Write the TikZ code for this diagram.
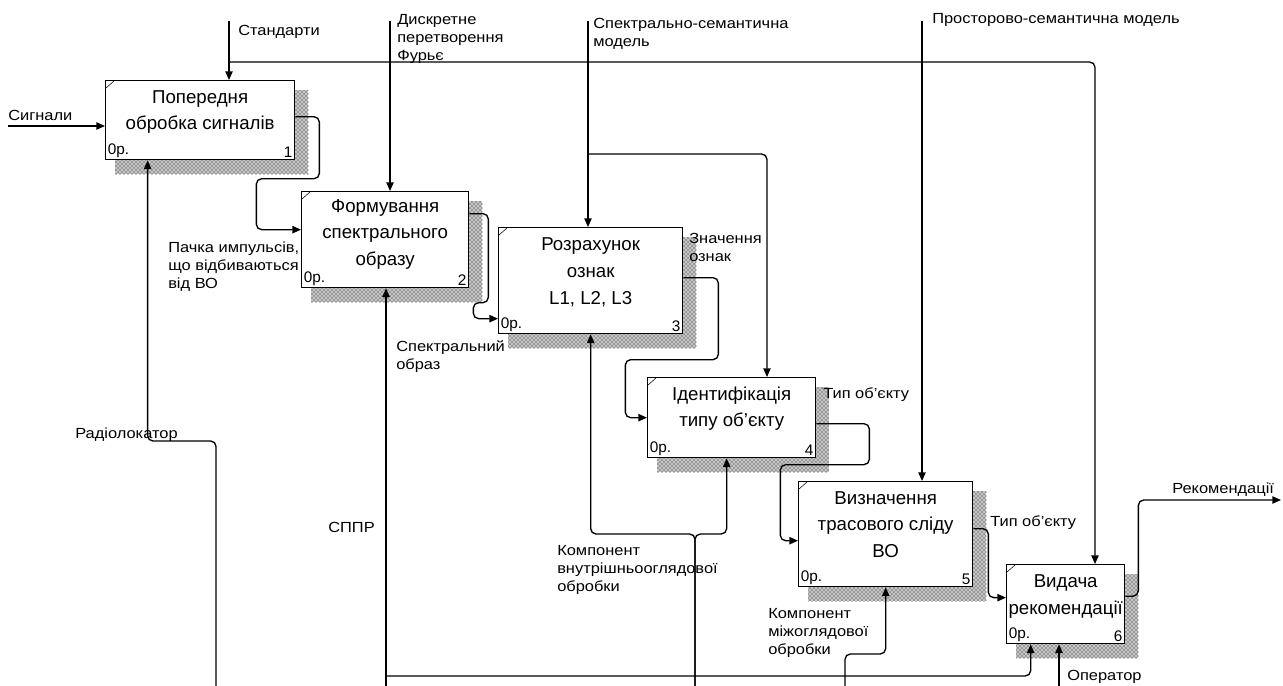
\documentclass[tikz,border=0pt]{standalone}
\usepackage{fontspec}
\setmainfont{Liberation Sans}
\newfontfamily\lblfont[FakeStretch=1.12]{Liberation Sans}
\usetikzlibrary{arrows.meta, patterns, backgrounds}
\tikzstyle{process} = [
    draw, 
    rectangle, 
    anchor=north west, 
    inner sep=0pt, 
    fill=white, 
    line width=1pt
]
\tikzstyle{boxtitle} = [
    anchor=north, 
    inner sep=0pt, 
    align=center, 
    font=\fontsize{14}{20}\selectfont
]
\tikzstyle{costtext} = [
    inner sep=2pt, 
    font=\fontsize{11.5}{13}\selectfont
]
\tikzstyle{arrlabel} = [
    anchor=north west, 
    inner sep=0pt, 
    align=left, 
    font=\lblfont\fontsize{11}{13.5}\selectfont
]
\tikzstyle{arrow} = [
    line width=1pt, 
    ->, 
    rounded corners=4pt
]

\begin{document}
\begin{tikzpicture}[x=0.75pt, y=-0.75pt, >={Triangle[length=6.5pt, width=5.5pt]}]
        \useasboundingbox (0,0) rectangle (1283,686);
        % blocks
        \node (b1) [process, minimum width=141.75pt, minimum height=59.25pt] at (105,80) {};
        \node (b2) [process, minimum width=125.25pt, minimum height=72pt] at (301,191) {};
        \node (b3) [process, minimum width=138pt, minimum height=79.5pt] at (498,227) {};
        \node (b4) [process, minimum width=126pt, minimum height=60pt] at (647,377) {};
        \node (b5) [process, minimum width=130.5pt, minimum height=78.75pt] at (798,481) {};
        \node (b6) [process, minimum width=88.5pt, minimum height=59.25pt] at (1006,564) {};
        \node (b1t) [boxtitle] at ([yshift=-7.5pt]b1.north) {Попередня\\обробка сигналів};
        \node (b2t) [boxtitle] at ([yshift=-6pt]b2.north) {Формування\\спектрального\\образу};
        \node (b3t) [boxtitle] at ([yshift=-8pt]b3.north) {Розрахунок\\ознак\\L1, L2, L3};
        \node (b4t) [boxtitle] at ([yshift=-7pt]b4.north) {Ідентифікація\\типу об’єкту};
        \node (b5t) [boxtitle] at ([yshift=-7.5pt]b5.north) {Визначення\\трасового сліду\\ВО};
        \node (b6t) [boxtitle] at ([yshift=-8pt]b6.north) {Видача\\рекомендації};
        \foreach \b/\n in {b1/1, b2/2, b3/3, b4/4, b5/5, b6/6} {
            \node (\b op) [costtext, anchor=south west] at (\b.south west) {0р.};
            \node (\b num) [costtext, anchor=south east] at (\b.south east) {\n};
            \draw[thin] ([xshift=0.75pt, yshift=-6pt]\b.north west) -- ([xshift=6.75pt, yshift=-0.75pt]\b.north west);
        }
        \begin{scope}[on background layer]
            \foreach \b in {b1, b2, b3, b4, b5, b6} {
                \fill[black!22] ([xshift=7.5pt, yshift=-10.5pt]\b.south west) rectangle ([xshift=9.75pt, yshift=-7.5pt]\b.north east);
                \fill[pattern=crosshatch dots, pattern color=black] ([xshift=7.5pt, yshift=-10.5pt]\b.south west) rectangle ([xshift=9.75pt, yshift=-7.5pt]\b.north east);
            }
        \end{scope}

        % free ends
        \coordinate (sig) at (8,126);
        \coordinate (std) at (229,21);
        \coordinate (stdj) at (229,62);
        \coordinate (stdr) at (1095,62);
        \coordinate (dft) at (390,21);
        \coordinate (sem) at (588,21);
        \coordinate (semj) at (588,154);
        \coordinate (semr) at (767,154);
        \coordinate (spm) at (922,21);
        \coordinate (rec) at (1281,500);
        \coordinate (rad) at (216,686);
        \coordinate (sppr) at (386,686);
        \coordinate (spprj) at (386,676);
        \coordinate (vno) at (695,686);
        \coordinate (mizh) at (845,686);
        \coordinate (oper) at (1059,686);

        % inputs and controls
        \draw[arrow] (sig) -- (sig -| b1.west);
        \draw[arrow] (std) -- (std |- b1.north);
        \draw[arrow] (stdj) -- (stdr) -- (stdr |- b6.north);
        \draw[arrow] (dft) -- (dft |- b2.north);
        \draw[arrow] (sem) -- (sem |- b3.north);
        \draw[arrow] (semj) -- (semr) -- (semr |- b4.north);
        \draw[arrow] (spm) -- (spm |- b5.north);

        % outputs
        \draw[arrow] ([yshift=2.6pt]b1.east) -- ++(24,0) -- ++(0,62) -- ++(-63,0) |- ([yshift=7.5pt]b2.west);
        \draw[arrow] ([yshift=19.5pt]b2.east) -- ++(19,0) -- ++(0,89) -- ++(-15,0) |- ([yshift=-28.5pt]b3.west);
        \draw[arrow] ([yshift=2.25pt]b3.east) -- ++(35,0) -- ++(0,82) -- ++(-93,0) |- (b4.west);
        \draw[arrow] ([yshift=-4.5pt]b4.east) -- ++(53,0) -- ++(0,41) -- ++(-89,0) |- ([yshift=-4.9pt]b5.west);
        \draw[arrow] ([yshift=4.1pt]b5.east) -- ++(15,0) |- ([yshift=4.9pt]b6.west);
        \draw[arrow] ([yshift=6pt]b6.east) -- ++(13,0) |- (rec);

        % mechanisms
        \draw[arrow] (rad) -- ++(0,-245) -| ([xshift=-39.4pt]b1.south);
        \draw[arrow] (sppr) -- (sppr |- b2.south);
        \draw[arrow] (spprj) -| ([xshift=-26.25pt]b6.south);
        \draw[arrow] (vno) -- ++(0,-152) -| (b3.south);
        \draw[arrow] (vno) -- ++(0,-152) -| ([xshift=-3.75pt]b4.south);
        \draw[arrow] (mizh) -- ++(0,-32) -| (b5.south);
        \draw[arrow] (oper) -- (oper |- b6.south);

        % labels
        \node (sigl) [arrlabel] at (8,110) {Сигнали};
        \node (stdl) [arrlabel] at (238,25) {Стандарти};
        \node (dftl) [arrlabel] at (397,14) {Дискретне\\перетворення\\Фурьє};
        \node (seml) [arrlabel] at (593,18) {Спектрально-семантична\\модель};
        \node (spml) [arrlabel] at (932,13) {Просторово-семантична модель};
        \node (pulsel) [arrlabel] at (168,242) {Пачка импульсів,\\що відбиваються\\від ВО};
        \node (obrazl) [arrlabel] at (396,340) {Спектральний\\образ};
        \node (znachl) [arrlabel] at (689,233) {Значення\\ознак};
        \node (tip1l) [arrlabel] at (823,387) {Тип об’єкту};
        \node (tip2l) [arrlabel] at (990,515) {Тип об’єкту};
        \node (recl) [arrlabel] at (1172,483) {Рекомендації};
        \node (radl) [arrlabel] at (75,428) {Радіолокатор};
        \node (spprl) [arrlabel] at (328,522) {СППР};
        \node (vnol) [arrlabel] at (557,545) {Компонент\\внутрішньооглядової\\обробки};
        \node (mizhl) [arrlabel] at (768,608) {Компонент\\міжоглядової\\обробки};
        \node (operl) [arrlabel] at (1067,670) {Оператор};
    \end{tikzpicture}
\end{document}
